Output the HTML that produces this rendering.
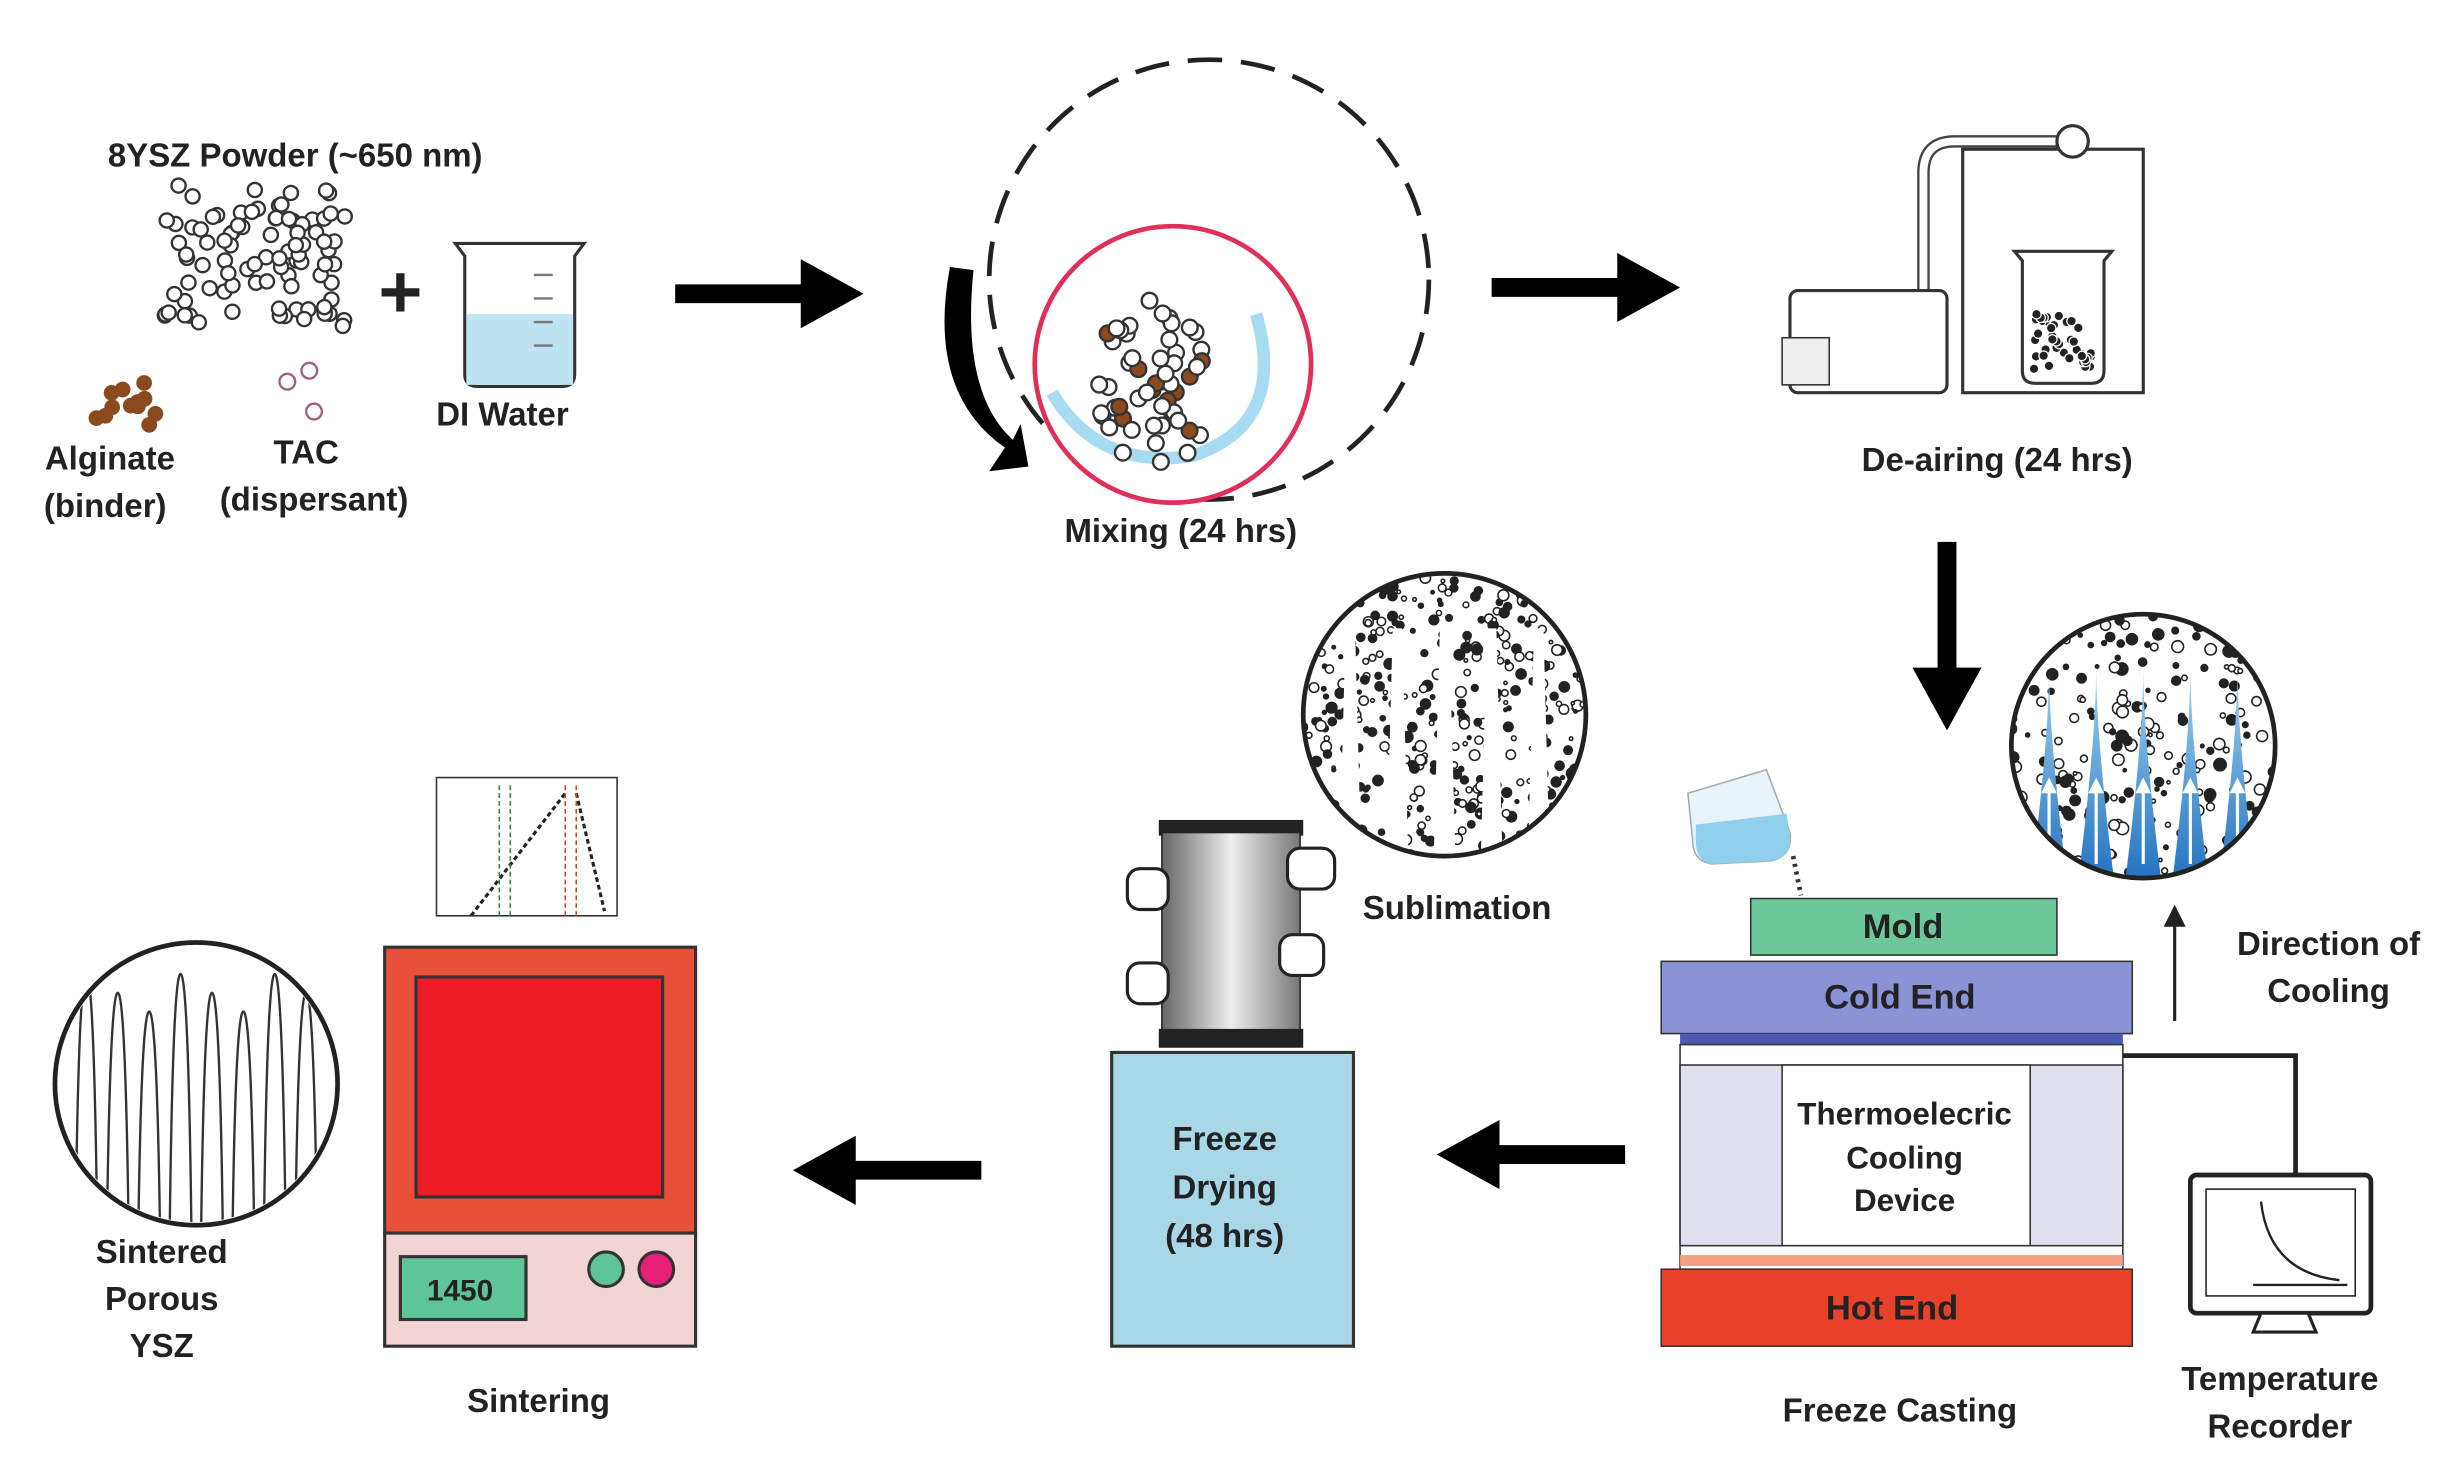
<!DOCTYPE html>
<html><head><meta charset="utf-8"><style>
html,body{margin:0;padding:0;background:#fff;width:2462px;height:1464px;overflow:hidden}
svg{display:block}
text{font-family:"Liberation Sans",Arial,sans-serif;font-weight:bold;fill:#222;text-anchor:middle}
</style></head><body>
<svg id="s" width="2462" height="1464" viewBox="0 0 1568 932" preserveAspectRatio="none" xmlns="http://www.w3.org/2000/svg">
<defs>
<linearGradient id="cyl" x1="0" x2="1"><stop offset="0" stop-color="#666"/><stop offset=".5" stop-color="#eee"/><stop offset="1" stop-color="#777"/></linearGradient>
<linearGradient id="spk" x1="0" y1="0" x2="0" y2="1"><stop offset="0" stop-color="#9fd3f0"/><stop offset="1" stop-color="#1f6fc0"/></linearGradient>
<clipPath id="c1"><circle cx="1365" cy="475" r="84"/></clipPath>
<clipPath id="c2"><circle cx="920" cy="455" r="90"/></clipPath>
<clipPath id="c3"><circle cx="125" cy="690" r="88"/></clipPath>
</defs>
<g id="dots"></g>
<text x="188" y="106" font-size="21">8YSZ Powder (~650 nm)</text>
<text x="255" y="202" font-size="48" font-weight="normal">+</text>
<path d="M290 155 L372 155 L366 163 L366 238 Q366 246 358 246 L304 246 Q296 246 296 238 L296 163 Z" fill="#fff" stroke="#333" stroke-width="2"/>
<rect x="297" y="200" width="68" height="45" fill="#bfe3f2"/>
<path d="M340 175h12M340 190h12M340 205h12M340 220h12" stroke="#777" stroke-width="1.5"/>
<text x="320" y="271" font-size="21">DI Water</text>
<text x="70" y="299" font-size="21">Alginate</text>
<text x="67" y="329" font-size="21">(binder)</text>
<text x="195" y="295" font-size="21">TAC</text>
<text x="200" y="325" font-size="21">(dispersant)</text>
<path d="M430 181h80v-16l40 22-40 22v-16h-80z" fill="#000"/>
<path d="M950 177h80v-16l40 22-40 22v-16h-80z" fill="#000"/>
<path d="M1234 345h12v80h16l-22 40-22-40h16z" fill="#000"/>
<path d="M1035 729h-80v-16l-40 22 40 22v-16h80z" fill="#000"/>
<path d="M625 739h-80v-16l-40 22 40 22v-16h80z" fill="#000"/>
<!-- mixing -->
<circle cx="770" cy="178" r="140" fill="none" stroke="#222" stroke-width="3" stroke-dasharray="22 12"/>
<circle cx="747" cy="232" r="88" fill="#fff" stroke="#e0305a" stroke-width="3"/>
<path d="M670 250 Q700 300 760 290 Q820 270 800 200" fill="none" stroke="#6cc3e8" stroke-width="8" opacity=".6"/>
<g id="mix"></g>
<path d="M605 170 Q590 250 640 285 L630 300 L655 297 L650 270 L645 280 Q612 250 620 172 Z" fill="#000"/>
<text x="752" y="345" font-size="21">Mixing (24 hrs)</text>
<!-- de-airing -->
<rect x="1250" y="95" width="115" height="155" fill="#fff" stroke="#333" stroke-width="2"/>
<path d="M1225 185 L1225 110 Q1225 90 1245 90 L1310 90" fill="none" stroke="#444" stroke-width="8"/>
<path d="M1225 185 L1225 110 Q1225 90 1245 90 L1310 90" fill="none" stroke="#fff" stroke-width="5"/>
<circle cx="1320" cy="90" r="10" fill="#fff" stroke="#333" stroke-width="2"/>
<rect x="1140" y="185" width="100" height="65" rx="5" fill="#fff" stroke="#333" stroke-width="2"/>
<rect x="1135" y="215" width="30" height="30" fill="#eee" stroke="#333"/>
<path d="M1283 160h62l-5 6v70q0 8-8 8h-36q-8 0-8-8v-70z" fill="#fff" stroke="#333" stroke-width="2"/>
<g id="de"></g>
<text x="1272" y="300" font-size="21">De-airing (24 hrs)</text>
<circle cx="1365" cy="475" r="84" fill="#fff"/>
<g clip-path="url(#c1)" id="cool"></g>
<circle cx="1365" cy="475" r="84" fill="none" stroke="#222" stroke-width="3"/>
<circle cx="920" cy="455" r="90" fill="#fff"/>
<g clip-path="url(#c2)" id="subl"></g>
<circle cx="920" cy="455" r="90" fill="none" stroke="#222" stroke-width="3"/>
<text x="928" y="585" font-size="21">Sublimation</text>
<!-- freeze casting -->
<path d="M1075 505 L1125 490 L1140 530 Q1142 545 1128 548 L1090 550 Q1078 548 1078 535 Z" fill="#e8f4fa" stroke="#aaa"/>
<path d="M1080 525 L1138 518 L1140 535 Q1140 546 1128 548 L1090 550 Q1080 548 1080 535 Z" fill="#8fd0ec"/>
<path d="M1142 545 L1147 570" stroke="#333" stroke-width="3" stroke-dasharray="2 3"/>
<rect x="1115" y="572" width="195" height="36" fill="#6cc79a" stroke="#333"/>
<text x="1212" y="597" font-size="22">Mold</text>
<rect x="1058" y="612" width="300" height="46" fill="#8b93d6" stroke="#333"/>
<text x="1210" y="642" font-size="22">Cold End</text>
<rect x="1070" y="658" width="282" height="7" fill="#4c59b0"/>
<rect x="1070" y="665" width="282" height="143" fill="#fff" stroke="#333"/>
<rect x="1070" y="678" width="282" height="115" fill="#e0e0ef" stroke="#333"/>
<rect x="1135" y="678" width="158" height="115" fill="#fff" stroke="#333"/>
<rect x="1070" y="799" width="282" height="7" fill="#f4a080"/>
<text x="1213" y="716" font-size="20">Thermoelecric</text>
<text x="1213" y="744" font-size="20">Cooling</text>
<text x="1213" y="771" font-size="20">Device</text>
<rect x="1058" y="808" width="300" height="49" fill="#e8432a" stroke="#333"/>
<text x="1205" y="840" font-size="22">Hot End</text>
<text x="1210" y="905" font-size="21">Freeze Casting</text>
<path d="M1385 650V585" stroke="#222" stroke-width="2"/><path d="M1378 590l7-14 7 14z" fill="#222"/>
<text x="1483" y="608" font-size="21">Direction of</text>
<text x="1483" y="638" font-size="21">Cooling</text>
<path d="M1352 672H1462V750" fill="none" stroke="#222" stroke-width="3"/>
<rect x="1395" y="748" width="115" height="88" rx="4" fill="#fff" stroke="#222" stroke-width="3"/>
<rect x="1405" y="757" width="95" height="68" fill="#fff" stroke="#222"/>
<path d="M1440 765Q1445 810 1490 815M1435 818H1495" fill="none" stroke="#222" stroke-width="1.5"/>
<path d="M1440 836h30l5 12h-40z" fill="#fff" stroke="#222" stroke-width="2"/>
<text x="1452" y="885" font-size="21">Temperature</text>
<text x="1452" y="915" font-size="21">Recorder</text>
<!-- freeze dryer -->
<rect x="738" y="522" width="92" height="10" fill="#222"/>
<rect x="740" y="530" width="88" height="130" fill="url(#cyl)" stroke="#222"/>
<rect x="738" y="655" width="92" height="12" fill="#222"/>
<g fill="#fff" stroke="#222" stroke-width="2">
<rect x="718" y="553" width="26" height="26" rx="8"/><rect x="718" y="613" width="26" height="26" rx="8"/>
<rect x="820" y="540" width="30" height="26" rx="8"/><rect x="815" y="595" width="28" height="26" rx="8"/></g>
<rect x="708" y="670" width="154" height="187" fill="#a8d8e8" stroke="#333" stroke-width="2"/>
<text x="780" y="732" font-size="21">Freeze</text>
<text x="780" y="763" font-size="21">Drying</text>
<text x="780" y="794" font-size="21">(48 hrs)</text>
<!-- sintering -->
<rect x="278" y="495" width="115" height="88" fill="#fff" stroke="#333"/>
<path d="M300 583L360 505M367 505L385 580" stroke="#222" stroke-width="2" stroke-dasharray="3 2" fill="none"/>
<path d="M318 500V583M325 500V583" stroke="#2a8a3a" stroke-dasharray="3 2"/>
<path d="M360 500V583M367 500V583" stroke="#d04030" stroke-dasharray="3 2"/>
<rect x="245" y="603" width="198" height="182" fill="#e8503a" stroke="#333" stroke-width="2"/>
<rect x="265" y="622" width="157" height="140" fill="#ed1c24" stroke="#333" stroke-width="2"/>
<rect x="245" y="785" width="198" height="72" fill="#f2d4d4" stroke="#333" stroke-width="2"/>
<rect x="255" y="800" width="80" height="40" fill="#5ec49a" stroke="#333" stroke-width="2"/>
<text x="293" y="828" font-size="19">1450</text>
<circle cx="386" cy="808" r="11" fill="#5ec49a" stroke="#333" stroke-width="2"/>
<circle cx="418" cy="808" r="11" fill="#e8207a" stroke="#333" stroke-width="2"/>
<text x="343" y="899" font-size="21">Sintering</text>
<circle cx="125" cy="690" r="90" fill="#fff" stroke="#222" stroke-width="3"/>
<g fill="none" stroke="#333" stroke-width="1.5" id="por" clip-path="url(#c3)"></g>
<text x="103" y="804" font-size="21">Sintered</text>
<text x="103" y="834" font-size="21">Porous</text>
<text x="103" y="864" font-size="21">YSZ</text>
</svg>
<script>
var NS="http://www.w3.org/2000/svg";
function el(p,t,a){var e=document.createElementNS(NS,t);for(var k in a)e.setAttribute(k,a[k]);p.appendChild(e);return e;}
var seed=7;function r(){seed=(seed*16807)%2147483647;return seed/2147483647;}
var d=document.getElementById("dots");
for(var i=0;i<90;i++){el(d,"circle",{cx:105+r()*115,cy:118+r()*90,r:4.5,fill:"#fff",stroke:"#333","stroke-width":1.5});}
for(var i=0;i<12;i++){el(d,"circle",{cx:58+r()*45,cy:243+r()*30,r:5,fill:"#8b4a1e"});}
[[183,243],[197,236],[200,262]].forEach(function(p){el(d,"circle",{cx:p[0],cy:p[1],r:5,fill:"#fff",stroke:"#a06080","stroke-width":1.5});});
var m=document.getElementById("mix");
for(var i=0;i<55;i++){var a=r()*6.28,q=Math.sqrt(r())*55;el(m,"circle",{cx:735+Math.cos(a)*q*0.7,cy:245+Math.sin(a)*q,r:5,fill:r()<0.2?"#8b4a1e":"#fff",stroke:"#333","stroke-width":1.5});}
var de=document.getElementById("de");
for(var i=0;i<45;i++){el(de,"circle",{cx:1295+r()*38,cy:200+r()*35,r:3,fill:"#222",stroke:"#fff","stroke-width":.8});}
var c=document.getElementById("cool");
for(var i=0;i<260;i++){el(c,"circle",{cx:1280+r()*170,cy:390+r()*170,r:1+r()*3,fill:r()<.5?"#222":"#fff",stroke:"#222","stroke-width":1});}
[1305,1335,1365,1395,1425].forEach(function(x){el(c,"path",{d:"M"+(x-12)+" 565 Q"+x+" 470 "+x+" 425 Q"+x+" 470 "+(x+12)+" 565Z",fill:"url(#spk)"});el(c,"path",{d:"M"+x+" 550V500",stroke:"#fff","stroke-width":2});el(c,"path",{d:"M"+(x-5)+" 505l5-10 5 10z",fill:"#fff"});});
var s=document.getElementById("subl");
for(var i=0;i<420;i++){el(s,"circle",{cx:830+r()*180,cy:365+r()*180,r:1+r()*2.5,fill:r()<.6?"#222":"#fff",stroke:"#222","stroke-width":1});}
[860,890,920,950,980].forEach(function(x){el(s,"path",{d:"M"+(x-7)+" 550 L"+(x-3)+" 400 L"+(x+3)+" 400 L"+(x+7)+" 550Z",fill:"#fff"});});
var p=document.getElementById("por");
[55,75,95,115,135,155,175,195].forEach(function(x,i){var t=620+(i%3)*12;el(p,"path",{d:"M"+(x-7)+" 790 Q"+(x-5)+" "+t+" "+x+" "+t+" Q"+(x+5)+" "+t+" "+(x+7)+" 790"});});
</script>
</body></html>
